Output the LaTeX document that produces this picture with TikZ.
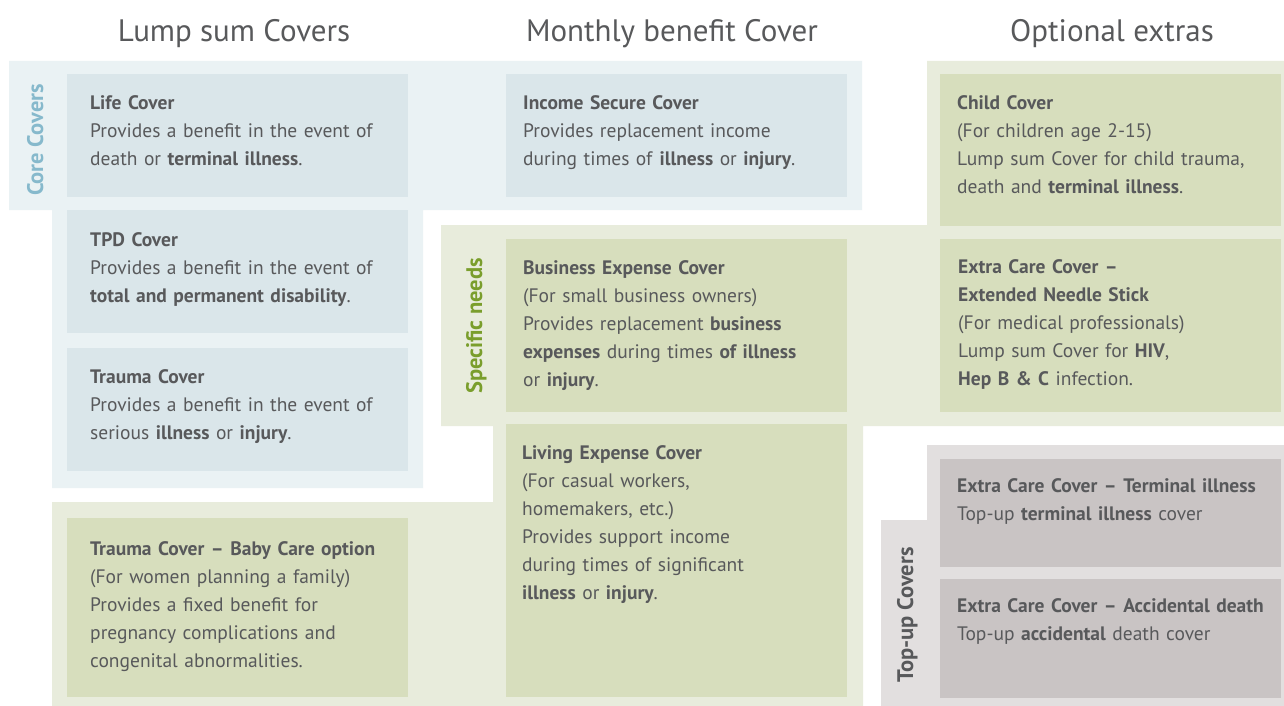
\documentclass[tikz,border=0pt]{standalone}
\usepackage{fontspec}
\setmainfont{PT Sans}
\definecolor{txtc}{HTML}{58595B}
\definecolor{coreBg}{HTML}{EAF2F4}
\definecolor{coreBox}{HTML}{DAE6EA}
\definecolor{grnBg}{HTML}{E8ECDC}
\definecolor{grnBox}{HTML}{D7DEBD}
\definecolor{gryBg}{HTML}{E2DFDF}
\definecolor{gryBox}{HTML}{C9C4C4}
\definecolor{coreLab}{HTML}{86B9CC}
\definecolor{grnLab}{HTML}{7A9E2C}
\begin{document}
\begin{tikzpicture}[x=1pt,y=-1pt,
  box/.style={anchor=north west, inner sep=0pt, outer sep=0pt},
  cbox/.style={box, fill=coreBox},
  gbox/.style={box, fill=grnBox},
  ybox/.style={box, fill=gryBox},
  body/.style={anchor=base west, inner sep=0pt, text=txtc, text width=340pt, align=left,
    font=\fontsize{19.5}{28}\selectfont},
  head/.style={anchor=base, inner sep=0pt, text=txtc, font=\fontsize{31}{36}\selectfont},
  sideb/.style={anchor=base, inner sep=0pt, rotate=90, font=\fontsize{22.5}{26}\selectfont\bfseries}]
\useasboundingbox (0,0) rectangle (1284,706);
\fill[white] (0,0) rectangle (1284,706);
% background groups
\fill[coreBg] (9,61) -- (862,61) -- (862,210) -- (423,210) -- (423,488) -- (52,488) -- (52,210) -- (9,210) -- cycle;
\fill[grnBg] (927,61) -- (1284,61) -- (1284,426) -- (863,426) -- (863,706) -- (52,706) -- (52,502) -- (493,502) -- (493,426) -- (441,426) -- (441,225) -- (927,225) -- cycle;
\fill[gryBg] (927,445) -- (1284,445) -- (1284,706) -- (881,706) -- (881,520) -- (927,520) -- cycle;
% headings
\node[head] (h1) at (234,42) {Lump sum Covers};
\node[head] (h2) at (672,42) {Monthly benefit Cover};
\node[head] (h3) at (1112,42) {Optional extras};
% side labels
\node[sideb, text=coreLab] (lcore) at (43,140) {Core Covers};
\node[sideb, text=grnLab] (lspec) at (482,326) {Specific needs};
\node[sideb, text=txtc] (ltop) at (913,615) {Top-up Covers};
% boxes
\node[cbox, minimum width=341pt, minimum height=123pt] (life) at (67,74) {};
\node[cbox, minimum width=341pt, minimum height=123pt] (tpd) at (67,210) {};
\node[cbox, minimum width=341pt, minimum height=123pt] (trauma) at (67,348) {};
\node[gbox, minimum width=341pt, minimum height=179pt] (baby) at (67,518) {};
\node[cbox, minimum width=341pt, minimum height=123pt] (income) at (506,74) {};
\node[gbox, minimum width=341pt, minimum height=173pt] (business) at (506,239) {};
\node[gbox, minimum width=341pt, minimum height=273pt] (living) at (506,424) {};
\node[gbox, minimum width=341pt, minimum height=152pt] (child) at (940,74) {};
\node[gbox, minimum width=341pt, minimum height=173pt] (needle) at (940,239) {};
\node[ybox, minimum width=341pt, minimum height=108pt] (topti) at (940,459) {};
\node[ybox, minimum width=341pt, minimum height=119pt] (topad) at (940,579) {};
% texts
\node[body] (tlife) at (90,110) {\textbf{Life Cover}\\Provides a benefit in the event of\\death or \textbf{terminal illness}.};
\node[body] (ttpd) at (90,246) {\textbf{TPD Cover}\\Provides a benefit in the event of\\\textbf{total and permanent disability}.};
\node[body] (ttrauma) at (90,383) {\textbf{Trauma Cover}\\Provides a benefit in the event of\\serious \textbf{illness} or \textbf{injury}.};
\node[body] (tbaby) at (90,555) {\textbf{Trauma Cover – Baby Care option}\\(For women planning a family)\\Provides a fixed benefit for\\pregnancy complications and\\congenital abnormalities.};
\node[body] (tincome) at (523,110) {\textbf{Income Secure Cover}\\Provides replacement income\\during times of \textbf{illness} or \textbf{injury}.};
\node[body] (tbusiness) at (523,274) {\textbf{Business Expense Cover}\\(For small business owners)\\Provides replacement \textbf{business}\\\textbf{expenses} during times \textbf{of illness}\\or \textbf{injury}.};
\node[body] (tliving) at (522,459) {\textbf{Living Expense Cover}\\(For casual workers,\\homemakers, etc.)\\Provides support income\\during times of significant\\\textbf{illness} or \textbf{injury}.};
\node[body] (tchild) at (957,110) {\textbf{Child Cover}\\(For children age 2-15)\\Lump sum Cover for child trauma,\\death and \textbf{terminal illness}.};
\node[body] (tneedle) at (958,273) {\textbf{Extra Care Cover –}\\\textbf{Extended Needle Stick}\\(For medical professionals)\\Lump sum Cover for \textbf{HIV},\\\textbf{Hep B \& C} infection.};
\node[body] (ttopti) at (957,492) {\textbf{Extra Care Cover – Terminal illness}\\Top-up \textbf{terminal illness} cover};
\node[body] (ttopad) at (957,612) {\textbf{Extra Care Cover – Accidental death}\\Top-up \textbf{accidental} death cover};
\end{tikzpicture}
\end{document}
